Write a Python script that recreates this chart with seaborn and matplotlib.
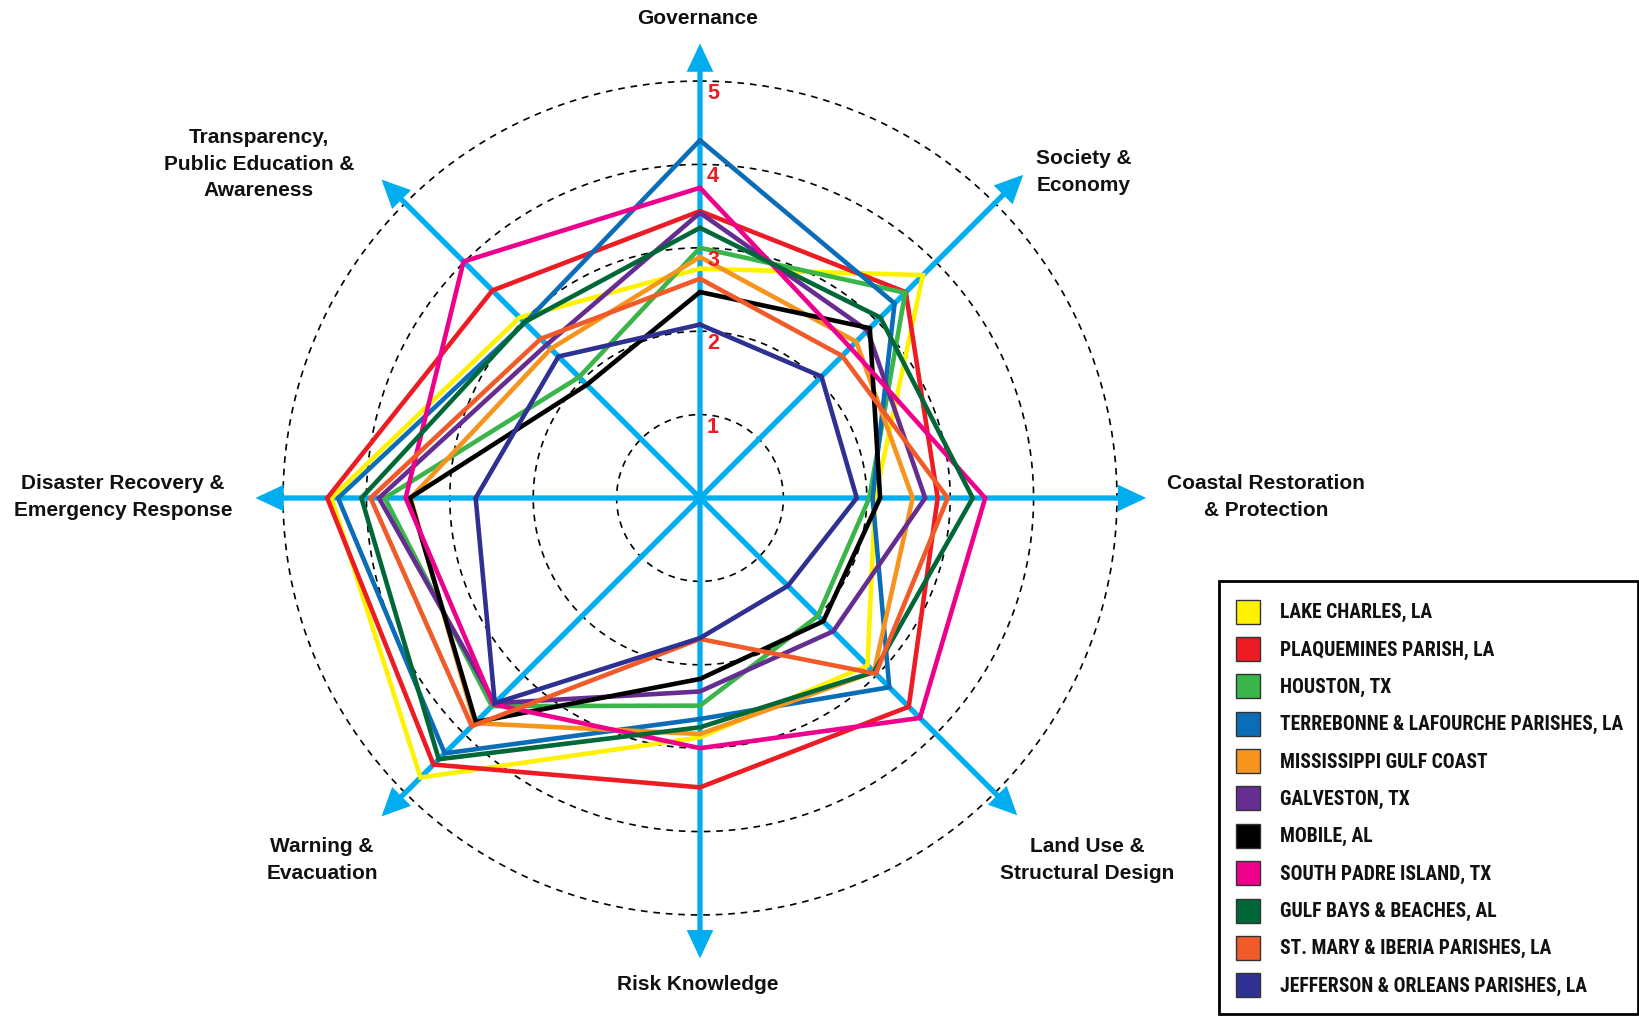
import numpy as np
import pandas as pd
import matplotlib
matplotlib.use("Agg")
import matplotlib.pyplot as plt
import seaborn as sns
from matplotlib import font_manager
from matplotlib.font_manager import FontProperties
from matplotlib.patches import Rectangle

# ---------------- data ----------------
categories = [
    "Governance",
    "Society &\nEconomy",
    "Coastal Restoration\n& Protection",
    "Land Use &\nStructural Design",
    "Risk Knowledge",
    "Warning &\nEvacuation",
    "Disaster Recovery &\nEmergency Response",
    "Transparency,\nPublic Education &\nAwareness",
]
ring_values = [1, 2, 3, 4, 5]

series_names = [
    "LAKE CHARLES, LA",
    "PLAQUEMINES PARISH, LA",
    "HOUSTON, TX",
    "TERREBONNE & LAFOURCHE PARISHES, LA",
    "MISSISSIPPI GULF COAST",
    "GALVESTON, TX",
    "MOBILE, AL",
    "SOUTH PADRE ISLAND, TX",
    "GULF BAYS & BEACHES, AL",
    "ST. MARY & IBERIA PARISHES, LA",
    "JEFFERSON & ORLEANS PARISHES, LA",
]
lake_charles = [2.75, 3.78, 2.10, 2.84, 2.87, 4.74, 4.42, 3.06]
plaquemines = [3.44, 3.49, 2.85, 3.54, 3.47, 4.52, 4.47, 3.52]
houston = [3.00, 3.48, 2.03, 2.00, 2.49, 3.53, 3.78, 2.05]
terrebonne = [4.29, 3.30, 2.07, 3.21, 2.65, 4.33, 4.34, 2.97]
mississippi = [2.89, 2.65, 2.55, 2.95, 2.83, 3.82, 3.47, 2.53]
galveston = [3.42, 2.84, 2.70, 2.26, 2.32, 3.48, 3.85, 2.60]
mobile = [2.47, 2.88, 2.16, 2.09, 2.17, 3.80, 3.48, 1.92]
south_padre = [3.72, 2.55, 3.42, 3.73, 3.00, 3.50, 3.53, 4.01]
gulf_bays = [3.24, 3.06, 3.27, 2.95, 2.75, 4.43, 4.06, 2.98]
st_mary = [2.63, 2.41, 2.97, 2.98, 1.69, 3.87, 3.95, 2.70]
jefferson = [2.08, 2.06, 1.88, 1.49, 1.68, 3.48, 2.69, 2.40]
series_values = [lake_charles, plaquemines, houston, terrebonne, mississippi,
                 galveston, mobile, south_padre, gulf_bays, st_mary, jefferson]

series_colors = ["#FFF200", "#ED1C24", "#39B54A", "#0B6DB7", "#F7941D",
                 "#662D91", "#000000", "#EC008C", "#006838", "#F15A29", "#2E3192"]
axis_color = "#00AEEF"

# ---------------- style ----------------
sns.set_theme(style="white")
plt.rcParams["font.family"] = ["Liberation Sans", "DejaVu Sans"]

W, H = 1639, 1016
fig = plt.figure(figsize=(W / 100, H / 100), dpi=100)

# polar axes: centre at (700, 498) px, 83.4 px per unit
rmax = 5.6
rad_px = 467
cx, cy = 700, 498
ax = fig.add_axes([(cx - rad_px) / W, (H - cy - rad_px) / H, 2 * rad_px / W, 2 * rad_px / H],
                  projection="polar")
ax.set_theta_zero_location("N")
ax.set_theta_direction(-1)
ax.set_ylim(0, rmax)
ax.set_xticks([])
ax.set_yticks([])
ax.grid(False)
ax.spines["polar"].set_visible(False)
ax.set_facecolor("none")

n = len(categories)
thetas = np.arange(n) * 2 * np.pi / n

# dashed rings
circ = np.linspace(0, 2 * np.pi, 500)
for rv in ring_values:
    ax.plot(circ, np.full_like(circ, rv), color="black", lw=1.2,
            ls=(0, (4, 3.5)), zorder=1)

# axis arrows
arrow_len = [5.45, 5.48, 5.35, 5.38, 5.52, 5.40, 5.33, 5.40]
for th, L in zip(thetas, arrow_len):
    ax.annotate("", xy=(th, L), xytext=(th, 0), xycoords="data",
                arrowprops=dict(arrowstyle="-|>,head_length=0.7,head_width=0.33",
                                color=axis_color, lw=3.8, shrinkA=0, shrinkB=0,
                                mutation_scale=20, joinstyle="miter"),
                zorder=2, annotation_clip=False)

# ring labels
for rv in ring_values:
    ax.annotate(str(rv), xy=(0, rv - 0.15), xytext=(13, 0), textcoords="offset pixels",
                color="#ED1C24", fontsize=15.5, fontweight="bold", ha="center", va="center",
                zorder=5)

# polygons
rows = []
for name, vals in zip(series_names, series_values):
    closed = list(vals) + [vals[0]]
    th = list(thetas) + [thetas[0]]
    for i, (t, v) in enumerate(zip(th, closed)):
        rows.append({"series": name, "order": i, "theta": t, "score": v})
df = pd.DataFrame(rows)

for k, (name, col) in enumerate(zip(series_names, series_colors)):
    sub = df[df["series"] == name]
    sns.lineplot(data=sub, x="theta", y="score", sort=False, estimator=None,
                 color=col, linewidth=3.3, ax=ax, legend=False, zorder=3 + k * 0.01,
                 solid_joinstyle="miter")
ax.set_xlabel("")
ax.set_ylabel("")
ax.set_ylim(0, rmax)

# overlay in pixel coordinates for labels & legend
ov = fig.add_axes([0, 0, 1, 1], zorder=10)
ov.set_xlim(0, W)
ov.set_ylim(H, 0)
ov.axis("off")
ov.patch.set_alpha(0)

label_pos = [(698, 18), (1084, 172), (1266, 497), (1087, 860),
             (698, 985), (322, 860), (123, 497), (259, 164)]
for txt, (x, y) in zip(categories, label_pos):
    ov.text(x, y, txt, ha="center", va="center", fontsize=15, fontweight="bold",
            color="#111111", linespacing=1.5)

# legend font: look for an installed bold condensed face
def find_condensed():
    prefs = ["Roboto Condensed", "Open Sans Condensed", "Noto Sans Condensed",
             "Liberation Sans Narrow", "Noto Sans SemiCondensed", "DejaVu Sans Condensed"]
    fl = font_manager.fontManager.ttflist
    def is_bold(f):
        w = f.weight
        if isinstance(w, str):
            return w in ("bold", "heavy", "extra bold", "black", "demibold", "semibold")
        return w >= 600
    for p in prefs:
        for f in fl:
            if (f.name == p or p.replace(" ", "") in f.fname.replace("-", "").replace(" ", "")) and is_bold(f):
                return FontProperties(fname=f.fname)
    for f in fl:
        st = f.stretch
        cond = (isinstance(st, str) and "condensed" in st) or (not isinstance(st, str) and st < 500) \
            or "Condensed" in f.fname or "Narrow" in f.fname
        if cond and is_bold(f):
            return FontProperties(fname=f.fname)
    return FontProperties(family="DejaVu Sans", weight="bold", stretch="condensed")

leg_fp = find_condensed()
leg_fp.set_size(19)

ov.add_patch(Rectangle((1219, 581), 419, 433, fill=False, edgecolor="black", lw=2))
row0, dy = 611.7, 37.35
texts = []
for i, (name, col) in enumerate(zip(series_names, series_colors)):
    yc = row0 + i * dy
    ov.add_patch(Rectangle((1236, yc - 12), 24, 24, facecolor=col, edgecolor="#333333", lw=1))
    t = ov.text(1280, yc + 1, name, ha="left", va="center", fontproperties=leg_fp,
                color="#111111")
    texts.append(t)

fig.canvas.draw()
r = fig.canvas.get_renderer()
maxw = max(t.get_window_extent(renderer=r).width for t in texts)
target = 343
if maxw > target * 1.02 or maxw < target * 0.9:
    fs = 19 * target / maxw
    for t in texts:
        t.set_fontsize(fs)

fig.savefig("out.png", dpi=100, facecolor="white")
